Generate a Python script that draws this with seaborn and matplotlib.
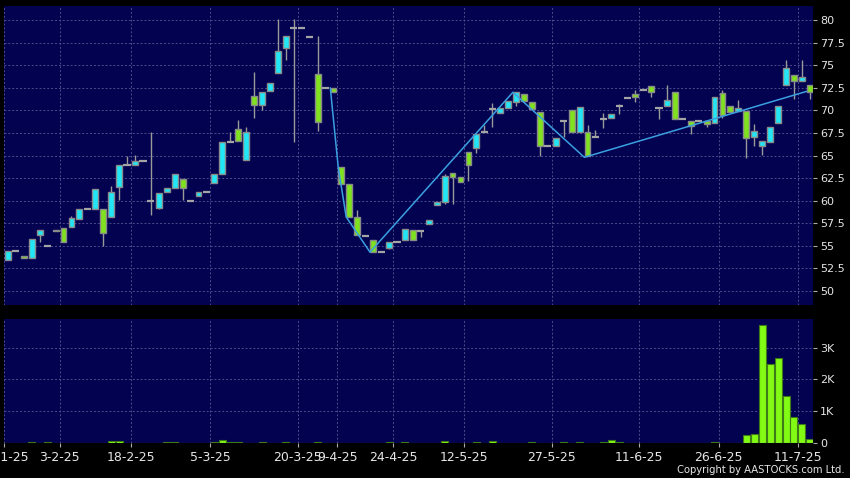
import numpy as np
import pandas as pd
import matplotlib
matplotlib.use("Agg")
import matplotlib.pyplot as plt
import seaborn as sns

sns.set_theme(style="dark")
plt.rcParams["font.family"] = ["DejaVu Sans"]

# ---------------- data ----------------
opens = [53.4, 54.4, 53.9, 53.7, 56.2, 55.0, 56.6, 57.0, 57.05, 57.95,
         59.05, 59.05, 59.05, 58.2, 61.5, 64.0, 63.9, 64.35, 60.0, 59.2,
         61.0, 61.45, 62.35, 60.0, 60.55, 61.0, 62.0, 63.0, 66.5, 67.9,
         64.45, 71.6, 70.55, 72.1, 74.1, 76.85, 79.15, 79.15, 78.1, 74.0,
         72.5, 72.5, 63.75, 61.9, 58.15, 56.1, 55.65, 54.35, 54.8, 55.4,
         55.65, 56.8, 56.6, 57.4, 59.5, 59.9, 63.1, 62.65, 65.35, 65.8,
         67.55, 70.1, 69.65, 70.3, 70.9, 71.8, 70.95, 69.8, 66.0, 66.0,
         68.85, 70.0, 67.55, 67.55, 67.1, 69.0, 69.1, 70.5, 71.35, 71.8,
         72.25, 72.7, 70.3, 70.5, 72.06, 69.0, 68.85, 68.85, 68.85, 68.55,
         71.95, 70.5, 69.9, 69.95, 67.1, 66.0, 66.5, 68.55, 72.8, 73.9,
         73.2, 72.8]
highs = [54.4, 54.4, 53.9, 55.75, 56.75, 55.0, 56.8, 57.0, 58.3, 59.05,
         59.05, 61.25, 59.05, 61.6, 63.95, 64.95, 65.05, 64.35, 67.55, 60.9,
         61.45, 63.0, 62.35, 60.0, 61.0, 61.0, 63.0, 66.45, 67.55, 68.9,
         68.2, 74.2, 72.06, 73.0, 80.1, 78.2, 80.1, 79.15, 78.1, 78.2,
         72.5, 72.5, 63.75, 61.9, 58.95, 56.1, 55.65, 54.35, 55.4, 55.4,
         56.9, 56.8, 56.6, 57.85, 59.85, 63.0, 63.1, 62.65, 65.35, 67.35,
         68.4, 70.8, 70.3, 71.05, 72.06, 71.8, 70.95, 69.8, 66.0, 66.9,
         68.85, 70.0, 70.4, 68.4, 67.8, 69.65, 69.6, 70.65, 71.35, 72.3,
         72.25, 72.7, 70.3, 72.8, 72.06, 69.0, 68.85, 68.85, 68.85, 71.5,
         72.25, 70.5, 71.15, 69.95, 68.5, 66.6, 68.1, 70.5, 75.6, 73.9,
         75.6, 72.8]
lows = [53.4, 54.4, 53.7, 53.6, 55.45, 55.0, 56.6, 55.4, 57.05, 57.95,
        59.05, 59.05, 55.0, 58.2, 60.1, 64.0, 63.9, 64.35, 58.4, 59.1,
        61.0, 61.45, 60.05, 60.0, 60.55, 61.0, 62.0, 63.0, 66.5, 66.6,
        64.45, 69.2, 70.0, 72.1, 74.1, 75.6, 66.5, 79.15, 78.1, 67.75,
        72.5, 72.06, 61.9, 58.15, 56.2, 56.1, 54.3, 54.35, 54.7, 55.4,
        55.65, 55.65, 56.0, 57.4, 59.5, 59.6, 59.6, 62.1, 62.2, 65.3,
        67.55, 68.1, 69.65, 70.3, 70.5, 71.0, 70.2, 65.0, 66.0, 66.0,
        67.1, 67.55, 67.55, 64.97, 67.1, 68.0, 69.1, 69.55, 71.35, 70.95,
        72.25, 71.5, 69.0, 70.5, 69.0, 69.0, 67.35, 68.85, 68.2, 68.55,
        69.1, 69.85, 69.9, 64.75, 66.0, 65.05, 66.5, 68.55, 72.8, 71.2,
        73.2, 71.3]
closes = [54.4, 54.4, 53.7, 55.75, 56.75, 55.0, 56.8, 55.4, 58.05, 59.05,
          59.05, 61.25, 56.4, 61.0, 63.95, 64.0, 64.35, 64.35, 60.0, 60.9,
          61.45, 63.0, 61.35, 60.0, 61.0, 61.0, 63.0, 66.45, 66.5, 66.6,
          67.55, 70.55, 72.06, 73.0, 76.6, 78.2, 79.15, 79.15, 78.1, 68.75,
          72.5, 72.06, 61.9, 58.15, 56.2, 56.1, 54.3, 54.35, 55.4, 55.4,
          56.9, 55.65, 56.6, 57.85, 59.85, 62.75, 62.65, 62.1, 64.0, 67.35,
          67.55, 70.1, 70.3, 71.05, 72.06, 71.0, 70.2, 66.1, 66.0, 66.9,
          68.85, 67.55, 70.4, 64.97, 67.1, 69.0, 69.6, 70.5, 71.35, 71.5,
          72.25, 72.06, 70.3, 71.15, 69.0, 69.0, 68.3, 68.85, 68.5, 71.5,
          69.5, 69.85, 70.3, 66.9, 67.75, 66.6, 68.1, 70.5, 74.65, 73.2,
          73.65, 72.0]
volumes = [15, 10, 0, 30, 0, 25, 0, 0, 0, 0,
           0, 0, 0, 70, 60, 0, 0, 0, 0, 0,
           30, 20, 0, 0, 0, 0, 45, 90, 40, 40,
           0, 0, 30, 0, 0, 40, 0, 0, 0, 35,
           0, 0, 0, 0, 0, 0, 0, 0, 40, 0,
           35, 0, 0, 0, 0, 50, 0, 0, 0, 45,
           0, 55, 0, 0, 0, 0, 25, 0, 0, 0,
           30, 0, 35, 0, 0, 20, 80, 30, 0, 0,
           0, 0, 0, 0, 0, 0, 0, 0, 0, 30,
           0, 0, 0, 240, 290, 3710, 2490, 2660, 1480, 830,
           600, 130]

zig_idx = [41, 42, 43, 46, 64, 73, 101]
zig_val = [72.5, 63.7, 58.2, 54.3, 72.0, 64.8, 72.1]

date_pos = [-0.5, 6.5, 15.5, 25.5, 36.5, 41.5, 48.5, 57.5, 68.5, 79.5, 89.5, 99.5]
date_labels = ["20-1-25", "3-2-25", "18-2-25", "5-3-25", "20-3-25", "9-4-25",
               "24-4-25", "12-5-25", "27-5-25", "11-6-25", "26-6-25", "11-7-25"]
price_ticks = [50, 52.5, 55, 57.5, 60, 62.5, 65, 67.5, 70, 72.5, 75, 77.5, 80]
price_labels = ["50", "52.5", "55", "57.5", "60", "62.5", "65", "67.5",
                "70", "72.5", "75", "77.5", "80"]
vol_ticks = [0, 1000, 2000, 3000]
vol_labels = ["0", "1K", "2K", "3K"]

# ---------------- styling ----------------
BG = "#020250"
CYAN = "#22E6F6"
GREEN = "#80E21E"
VOLGREEN = "#82FA14"
EDGE = "#8a8a8a"
GRID = "#4c4c8c"
TXT = "#e6e6e6"

W, H = 850, 478
fig = plt.figure(figsize=(W / 100, H / 100), dpi=100, facecolor="black")
ax = fig.add_axes([4 / W, 1 - 305 / H, 809 / W, 299 / H])
axv = fig.add_axes([4 / W, 1 - 443 / H, 809 / W, 124 / H])

o = np.array(opens); h = np.array(highs); l = np.array(lows); c = np.array(closes)
idx = np.arange(len(o))
up = c > o
dn = c < o
dj = c == o

ax.set_facecolor(BG)
ax.vlines(idx, l, h, color="#9a9a9a", lw=1.0, zorder=2)
ax.bar(idx[up], (c - o)[up], bottom=o[up], width=0.74, color=CYAN,
       edgecolor=EDGE, linewidth=1.0, zorder=3)
ax.bar(idx[dn], (c - o)[dn], bottom=o[dn], width=0.74, color=GREEN,
       edgecolor=EDGE, linewidth=1.0, zorder=3)
ax.hlines(c[dj], idx[dj] - 0.45, idx[dj] + 0.45, color="#a4a4a4", lw=1.6, zorder=3)
ax.plot(np.array(zig_idx) - 0.4, zig_val, color="#3aa0e0", lw=1.1, zorder=4)

ax.set_xlim(-0.5, 101.4)
ax.set_ylim(48.45, 81.55)
ax.yaxis.tick_right()
ax.set_yticks(price_ticks)
ax.set_yticklabels(price_labels)
ax.set_xticks(date_pos)
ax.set_xticklabels([])
ax.tick_params(axis="y", colors="#aaaaaa", labelcolor=TXT, labelsize=8,
               length=3, width=0.8, pad=2, right=True, left=False)
ax.tick_params(axis="x", length=0, bottom=False)
ax.grid(True, color=GRID, ls=(0, (2, 2)), lw=0.7)
ax.set_axisbelow(True)
for s in ax.spines.values():
    s.set_visible(False)

# volume
axv.set_facecolor(BG)
vdf = pd.DataFrame({"i": idx, "v": volumes})
sns.barplot(data=vdf, x="i", y="v", native_scale=True, ax=axv, color=VOLGREEN,
            saturation=1, width=0.88, edgecolor="#3f7a18", linewidth=0.8,
            errorbar=None, zorder=3)
axv.set_xlim(-0.5, 101.4)
axv.set_ylim(0, 3900)
axv.set_xlabel("")
axv.set_ylabel("")
axv.yaxis.tick_right()
axv.set_yticks(vol_ticks)
axv.set_yticklabels(vol_labels)
axv.set_xticks(date_pos)
axv.set_xticklabels(date_labels)
axv.tick_params(axis="y", colors="#aaaaaa", labelcolor=TXT, labelsize=8,
                length=3, width=0.8, pad=2, right=True, left=False)
axv.tick_params(axis="x", colors="#aaaaaa", labelcolor=TXT, labelsize=9,
                length=3, width=0.8, pad=3, bottom=True)
axv.grid(True, color=GRID, ls=(0, (2, 2)), lw=0.7)
axv.set_axisbelow(True)
for s in axv.spines.values():
    s.set_visible(False)

fig.text(845 / W, 1 - 470 / H, "Copyright by AASTOCKS.com Ltd.", ha="right",
         va="center", color=TXT, fontsize=8, fontstretch="condensed")

fig.savefig("out.png", dpi=100, facecolor="black")
